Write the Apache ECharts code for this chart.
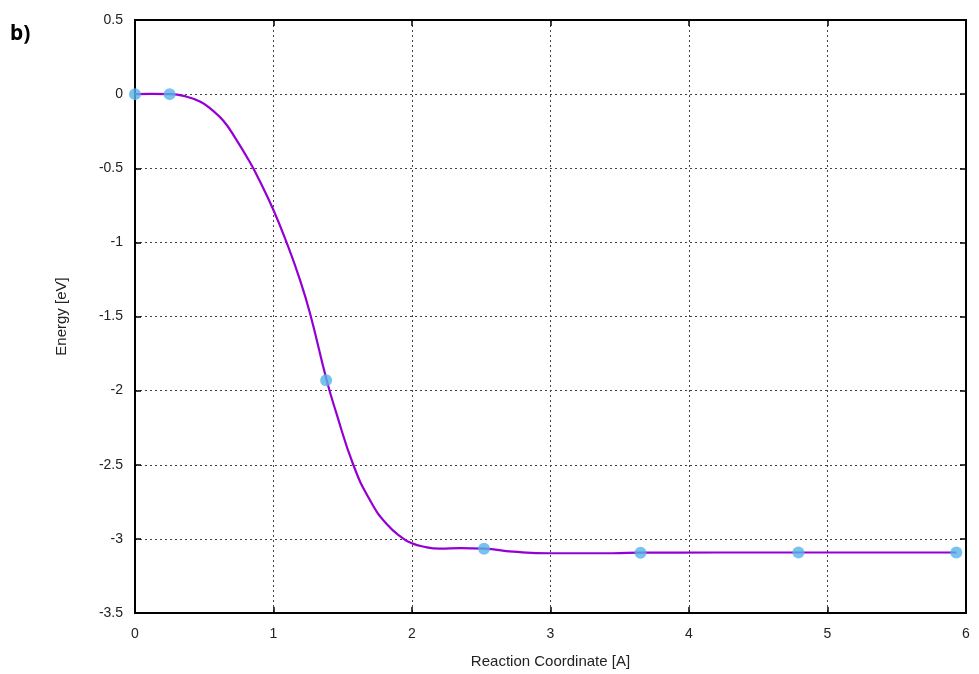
<!DOCTYPE html>
<html>
<head>
<meta charset="utf-8">
<script src="https://cdn.jsdelivr.net/npm/echarts@6/dist/echarts.min.js"></script>
<style>
html,body{margin:0;padding:0;background:#fff;}
#chart{width:979px;height:674px;}
</style>
</head>
<body>
<div id="chart"></div>
<script>
// NEB images (reaction coordinate [A], energy [eV])
const imageX = [0, 0.25, 1.38, 2.52, 3.65, 4.79, 5.93];
const imageE = [0, 0, -1.93, -3.066, -3.093, -3.092, -3.092];

// Interpolated energy curve
const curveX = [0, 0.12, 0.25, 0.35, 0.469, 0.56, 0.638, 0.72, 0.83, 0.9, 0.994, 1.09, 1.19, 1.264, 1.384, 1.45, 1.576, 1.697, 1.817, 1.94, 2.0, 2.07, 2.2, 2.35, 2.52, 2.73, 3.0, 3.45, 3.65, 4.2, 4.79, 5.3, 5.93];
const curveE = [0, 0.002, 0, -0.012, -0.05, -0.11, -0.18, -0.29, -0.46, -0.585, -0.77, -0.99, -1.25, -1.48, -1.93, -2.14, -2.5, -2.74, -2.9, -3.0, -3.03, -3.05, -3.066, -3.062, -3.066, -3.086, -3.097, -3.097, -3.093, -3.092, -3.092, -3.092, -3.092];

const xTicks = [0, 1, 2, 3, 4, 5, 6];
const yTicks = [0.5, 0, -0.5, -1, -1.5, -2, -2.5, -3, -3.5];

const font = 'Liberation Sans, Arial, sans-serif';
const chart = echarts.init(document.getElementById('chart'));
const gridSplit = {show: true, lineStyle: {color: '#444', type: [2, 3], width: 1}};
const axisLineStyle = {show: true, onZero: false, lineStyle: {color: '#000', width: 2}};
const tickStyle = {show: true, inside: true, length: 6, lineStyle: {color: '#000', width: 1.5}};

chart.setOption({
  animation: false,
  backgroundColor: '#fff',
  graphic: [{
    type: 'text', left: 10, top: 24,
    style: {text: 'b)', font: 'bold 21px "Noto Sans", sans-serif', fill: '#000'}
  }],
  grid: {left: 135, right: 13, top: 20, bottom: 61, show: true, borderColor: '#000', borderWidth: 2},
  xAxis: [{
    type: 'value', min: 0, max: 6, interval: 1,
    name: 'Reaction Coordinate [A]', nameLocation: 'middle', nameGap: 41,
    nameTextStyle: {fontFamily: font, fontSize: 15, color: '#222'},
    axisLine: axisLineStyle, axisTick: tickStyle,
    axisLabel: {fontFamily: font, fontSize: 14, color: '#222', margin: 14,
      formatter: v => xTicks.includes(v) ? String(v) : ''},
    splitLine: gridSplit
  }, {
    type: 'value', min: 0, max: 6, interval: 1, position: 'top',
    axisLine: axisLineStyle, axisTick: tickStyle, axisLabel: {show: false}, splitLine: {show: false}
  }],
  yAxis: [{
    type: 'value', min: -3.5, max: 0.5, interval: 0.5,
    name: 'Energy [eV]', nameLocation: 'middle', nameGap: 66, nameRotate: 90,
    nameTextStyle: {fontFamily: font, fontSize: 15, color: '#222'},
    axisLine: axisLineStyle, axisTick: tickStyle,
    axisLabel: {fontFamily: font, fontSize: 14, color: '#222', margin: 12,
      formatter: v => yTicks.some(t => Math.abs(t - v) < 1e-9) ? String(Math.round(v * 10) / 10) : ''},
    splitLine: gridSplit
  }, {
    type: 'value', min: -3.5, max: 0.5, interval: 0.5, position: 'right',
    axisLine: axisLineStyle, axisTick: tickStyle, axisLabel: {show: false}, splitLine: {show: false}
  }],
  series: [{
    type: 'line', name: 'curve',
    data: curveX.map((x, i) => [x, curveE[i]]),
    smooth: 0.5, showSymbol: false, symbol: 'none',
    lineStyle: {color: '#9400D3', width: 2.2}, z: 3
  }, {
    type: 'scatter', name: 'images',
    data: imageX.map((x, i) => [x, imageE[i]]),
    symbol: 'circle', symbolSize: 12,
    itemStyle: {color: '#56B4E9'}, z: 4
  }]
});
</script>
</body>
</html>
